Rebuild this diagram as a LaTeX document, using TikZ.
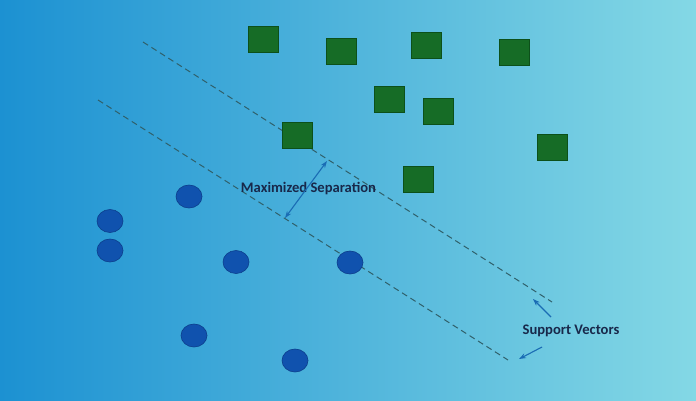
\documentclass[tikz,border=0pt]{standalone}
\usepackage{fontspec}
\setmainfont{Carlito}
\usetikzlibrary{shapes.geometric,arrows.meta}
\definecolor{bgleft}{RGB}{28,145,210}
\definecolor{bgmid}{RGB}{70,180,222}
\definecolor{bgright}{RGB}{132,216,229}
\definecolor{sqfill}{RGB}{22,108,38}
\definecolor{sqline}{RGB}{12,80,26}
\definecolor{dotfill}{RGB}{16,82,174}
\definecolor{dotline}{RGB}{12,62,140}
\definecolor{margingray}{RGB}{48,96,106}
\definecolor{arrowblue}{RGB}{26,108,180}
\definecolor{captionblue}{RGB}{24,40,74}
\begin{document}
\begin{tikzpicture}[x = 1pt, y = -1pt,
		square/.style = {rectangle, fill = sqfill, draw = sqline, line width = 0.6pt, minimum width = 30pt, minimum height = 26pt, inner sep = 0pt},
		dot/.style = {ellipse, fill = dotfill, draw = dotline, line width = 0.6pt, minimum width = 26pt, minimum height = 23pt, inner sep = 0pt},
		marginline/.style = {margingray, line width = 1pt, dash pattern = on 6pt off 4pt},
		pointer/.style = {arrowblue, line width = 1.1pt},
		caption/.style = {text = captionblue, font = \fontsize{14.6}{18}\selectfont\bfseries},
		>={Stealth[length = 7pt, width = 5pt]}]
		\useasboundingbox (0,0) rectangle (696,400);
		\shade [left color = bgleft, middle color = bgmid, right color = bgright] (0,0) rectangle (696,400);
		% the margins
		\coordinate (u1) at (143,42);
		\coordinate (u2) at (552,302);
		\coordinate (l1) at (98,100);
		\coordinate (l2) at (508,360);
		\draw [marginline] (u1) -- (u2);
		\draw [marginline] (l1) -- (l2);
		% one class
		\node [square] (s1) at (263,39.5) {};
		\node [square] (s2) at (341,51) {};
		\node [square] (s3) at (426,45) {};
		\node [square] (s4) at (514,52) {};
		\node [square] (s5) at (389,99) {};
		\node [square] (s6) at (438,111) {};
		\node [square] (s7) at (297,135) {};
		\node [square] (s8) at (552,147) {};
		\node [square] (s9) at (418,179) {};
		% other class
		\node [dot] (c1) at (189,196.5) {};
		\node [dot] (c2) at (110,221) {};
		\node [dot] (c3) at (110,250.5) {};
		\node [dot] (c4) at (236,262) {};
		\node [dot] (c5) at (350,262.5) {};
		\node [dot] (c6) at (194,335.5) {};
		\node [dot] (c7) at (295,360.5) {};
		% labels
		\node [caption] (sep) at (308.5,189) {Maximized Separation};
		\node [caption] (sv) at (571,331) {Support Vectors};
		\coordinate (g1) at (285,218);
		\coordinate (g2) at (327,161);
		\draw [pointer, <->] (g1) -- (g2);
		\coordinate (a1) at (551,317);
		\coordinate (a2) at (533,299);
		\coordinate (b1) at (542,347);
		\coordinate (b2) at (519,359);
		\draw [pointer, ->] (a1) -- (a2);
		\draw [pointer, ->] (b1) -- (b2);
	\end{tikzpicture}
\end{document}
